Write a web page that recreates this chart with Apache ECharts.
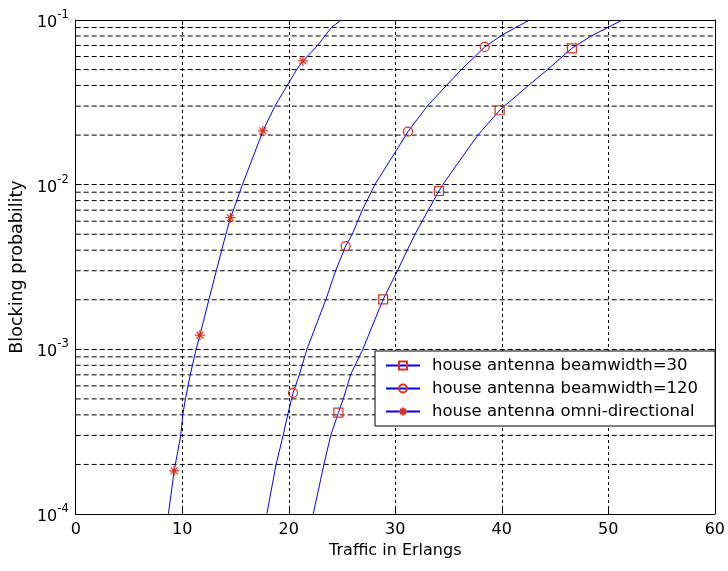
<!DOCTYPE html>
<html>
<head>
<meta charset="utf-8">
<script src="https://cdn.jsdelivr.net/npm/echarts@6/dist/echarts.min.js"></script>
<style>
html,body{margin:0;padding:0;background:#fff;}
#chart{width:728px;height:571px;}
</style>
</head>
<body>
<div id="chart"></div>
<script>
// ---- data ----
var seriesNames = ['house antenna beamwidth=30', 'house antenna beamwidth=120', 'house antenna omni-directional'];

var bw30X = [22.3, 23.3, 23.94, 24.66, 25.12, 25.8, 26.95, 28.86, 30.2, 31.85, 33.1, 34.1, 34.45, 37.75, 39.8, 40.25, 42.5, 44.3, 46.58, 48.4, 49.95, 51.3];
var bw30Y = [1e-4, 2e-4, 3e-4, 4.13e-4, 5e-4, 7e-4, 1e-3, 2.01e-3, 3e-3, 5e-3, 7e-3, 9.15e-3, 1e-2, 2e-2, 2.83e-2, 3e-2, 4e-2, 5e-2, 6.73e-2, 8e-2, 9e-2, 1e-1];
var bw30Markers = [3, 7, 11, 14, 18];

var bw120X = [17.94, 18.81, 19.47, 19.9, 20.4, 20.99, 21.7, 23.48, 24.4, 25.34, 25.96, 26.9, 28.08, 31.0, 31.19, 33.0, 34.8, 36.2, 38.4, 39.9, 41.3, 42.6];
var bw120Y = [1e-4, 2e-4, 3e-4, 4e-4, 5.44e-4, 7e-4, 1e-3, 2e-3, 3e-3, 4.24e-3, 5e-3, 7e-3, 1e-2, 2e-2, 2.1e-2, 3e-2, 4e-2, 5e-2, 6.86e-2, 8e-2, 9e-2, 1e-1];
var bw120Markers = [4, 9, 14, 18];

var omniX = [8.70, 9.24, 9.86, 10.05, 10.3, 10.75, 11.3, 11.66, 12.5, 13.2, 13.7, 14.1, 14.52, 14.8, 15.65, 17.43, 17.57, 18.7, 19.85, 20.75, 21.33, 22.7, 24.0, 24.9];
var omniY = [1e-4, 1.83e-4, 3e-4, 4e-4, 5e-4, 7e-4, 1e-3, 1.22e-3, 2e-3, 3e-3, 4e-3, 5e-3, 6.3e-3, 7e-3, 1e-2, 2e-2, 2.12e-2, 3e-2, 4e-2, 5e-2, 5.64e-2, 7e-2, 9e-2, 1e-1];
var omniMarkers = [1, 7, 12, 16, 20];

var yMinorGrid = [2e-4,3e-4,4e-4,5e-4,6e-4,7e-4,8e-4,9e-4,
                  2e-3,3e-3,4e-3,5e-3,6e-3,7e-3,8e-3,9e-3,
                  2e-2,3e-2,4e-2,5e-2,6e-2,7e-2,8e-2,9e-2];

// ---- build ----
var FONT = 'DejaVu Sans, sans-serif';
var BLUE = '#0000ff';
var RED = '#e0301a';
var STAR = 'path://M5,0L5,10M0,5L10,5M1.6,1.6L8.4,8.4M1.6,8.4L8.4,1.6';
var X_MIN = 0, X_MAX = 60;

function build(xs, ys, marks) {
  var out = [];
  for (var i = 0; i < xs.length; i++) {
    var item = { value: [xs[i], ys[i]] };
    if (marks.indexOf(i) < 0) item.symbol = 'none';
    out.push(item);
  }
  return out;
}

function curve(name, xs, ys, marks, symbol, size) {
  return {
    name: name,
    type: 'line',
    z: 5,
    data: build(xs, ys, marks),
    symbol: symbol,
    symbolSize: size,
    showSymbol: true,
    showAllSymbol: true,
    smooth: false,
    lineStyle: { color: BLUE, width: 1 },
    itemStyle: { color: 'none', borderColor: RED, borderWidth: 1.2 },
    emphasis: { disabled: true },
    animation: false
  };
}

var chart = echarts.init(document.getElementById('chart'), null, { renderer: 'canvas' });

var option = {
  animation: false,
  backgroundColor: '#fff',
  grid: { left: 75, top: 20, right: 10, bottom: 57, containLabel: false },
  legend: {
    data: seriesNames,
    orient: 'vertical',
    left: 375,
    top: 351,
    padding: [6, 17, 6, 10],
    itemWidth: 34,
    itemHeight: 10,
    itemGap: 6,
    backgroundColor: '#fff',
    borderColor: '#000',
    borderWidth: 1,
    borderRadius: 0,
    textStyle: { fontFamily: FONT, fontSize: 16.5, color: '#000', padding: [0, 0, 0, 7], lineHeight: 17 },
    selectedMode: false
  },
  xAxis: [{
    type: 'value',
    min: X_MIN, max: X_MAX, interval: 10,
    name: 'Traffic in Erlangs',
    nameLocation: 'middle',
    nameGap: 29,
    nameTextStyle: { fontFamily: FONT, fontSize: 16, color: '#000' },
    axisLine: { show: true, onZero: false, lineStyle: { color: '#000', width: 1 } },
    axisTick: { show: true, inside: true, length: 5, lineStyle: { color: '#000' } },
    axisLabel: { fontFamily: FONT, fontSize: 16, color: '#000', margin: 8 },
    splitLine: { show: true, lineStyle: { color: '#000', type: [3, 3], width: 1 } }
  }, {
    type: 'value', position: 'top',
    min: X_MIN, max: X_MAX, interval: 10,
    axisLine: { show: true, onZero: false, lineStyle: { color: '#000', width: 1 } },
    axisTick: { show: true, inside: true, length: 5, lineStyle: { color: '#000' } },
    axisLabel: { show: false },
    splitLine: { show: false }
  }],
  yAxis: [{
    type: 'log',
    logBase: 10,
    min: 1e-4, max: 1e-1,
    name: 'Blocking probability',
    nameLocation: 'middle',
    nameGap: 47,
    nameTextStyle: { fontFamily: FONT, fontSize: 17.5, color: '#000' },
    axisLine: { show: true, onZero: false, lineStyle: { color: '#000', width: 1 } },
    axisTick: { show: true, inside: true, length: 6, lineStyle: { color: '#000' } },
    axisLabel: {
      margin: 7,
      formatter: function (v) {
        var e = Math.round(Math.log(v) / Math.LN10);
        return '{b|10}{s|' + e + '}';
      },
      rich: {
        b: { fontFamily: FONT, fontSize: 16, color: '#000', lineHeight: 22, verticalAlign: 'bottom' },
        s: { fontFamily: FONT, fontSize: 11.5, color: '#000', lineHeight: 12, verticalAlign: 'top' }
      }
    },
    splitLine: { show: true, lineStyle: { color: '#000', type: [5, 3], width: 1 } }
  }, {
    type: 'log', position: 'right',
    logBase: 10,
    min: 1e-4, max: 1e-1,
    axisLine: { show: true, onZero: false, lineStyle: { color: '#000', width: 1 } },
    axisTick: { show: true, inside: true, length: 6, lineStyle: { color: '#000' } },
    axisLabel: { show: false },
    splitLine: { show: false }
  }],
  series: [
    {
      name: 'minor-grid',
      type: 'custom',
      z: 1,
      silent: true,
      data: yMinorGrid,
      encode: { y: 0 },
      clip: true,
      renderItem: function (params, api) {
        var v = api.value(0);
        var p1 = api.coord([X_MIN, v]);
        var p2 = api.coord([X_MAX, v]);
        return {
          type: 'line',
          shape: { x1: p1[0], y1: p1[1], x2: p2[0], y2: p2[1] },
          style: { stroke: '#000', lineWidth: 1, lineDash: [5, 3], fill: null }
        };
      }
    },
    curve(seriesNames[0], bw30X, bw30Y, bw30Markers, 'rect', 9),
    curve(seriesNames[1], bw120X, bw120Y, bw120Markers, 'circle', 9),
    curve(seriesNames[2], omniX, omniY, omniMarkers, STAR, 10)
  ]
};
chart.setOption(option);
</script>
</body>
</html>
